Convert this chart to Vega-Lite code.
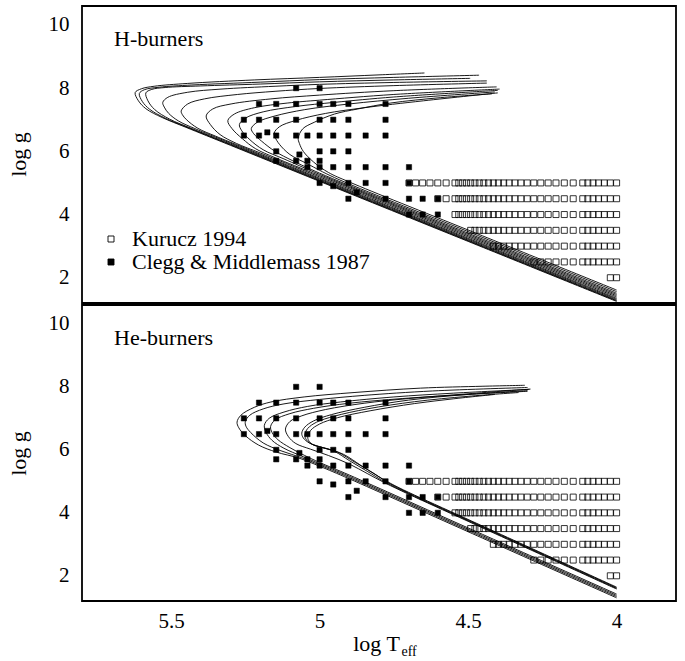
{
"$schema": "https://vega.github.io/schema/vega-lite/v6.json",
"padding": {"left": 6, "top": 5, "right": 10, "bottom": 0},
"config": {
  "font": "Liberation Serif",
  "view": {"stroke": "black", "strokeWidth": 1.8, "fill": "transparent"},
  "axis": {"domain": false, "grid": false, "ticks": false, "tickSize": 0, "labelFont": "Liberation Serif", "labelFontSize": 21, "labelColor": "black", "titleFont": "Liberation Serif", "titleFontSize": 22, "titleColor": "black", "titleFontWeight": "normal", "labelFlush": false, "labelOverlap": false, "format": "~r"}
},
"datasets": {
"tracks": [
{"p":"H","k":"A","i":0,"x":4.0,"y":1.25},{"p":"H","k":"A","i":1,"x":4.5,"y":3.15},{"p":"H","k":"A","i":2,"x":5.0,"y":5.05},{"p":"H","k":"A","i":3,"x":5.3,"y":6.19},{"p":"H","k":"A","i":4,"x":5.45,"y":6.76},{"p":"H","k":"A","i":5,"x":5.53,"y":7.07},{"p":"H","k":"A","i":6,"x":5.585,"y":7.35},{"p":"H","k":"A","i":7,"x":5.61,"y":7.6},{"p":"H","k":"A","i":8,"x":5.621,"y":7.86},{"p":"H","k":"A","i":9,"x":5.6,"y":7.98},{"p":"H","k":"A","i":10,"x":5.557,"y":8.06},{"p":"H","k":"A","i":11,"x":5.444,"y":8.15},{"p":"H","k":"A","i":12,"x":5.22,"y":8.26},{"p":"H","k":"A","i":13,"x":5.0,"y":8.34},{"p":"H","k":"A","i":14,"x":4.8,"y":8.42},{"p":"H","k":"A","i":15,"x":4.647,"y":8.48},
{"p":"H","k":"B","i":0,"x":4.0,"y":1.27},{"p":"H","k":"B","i":1,"x":4.5,"y":3.17},{"p":"H","k":"B","i":2,"x":5.0,"y":5.07},{"p":"H","k":"B","i":3,"x":5.3,"y":6.21},{"p":"H","k":"B","i":4,"x":5.44,"y":6.74},{"p":"H","k":"B","i":5,"x":5.52,"y":7.05},{"p":"H","k":"B","i":6,"x":5.572,"y":7.33},{"p":"H","k":"B","i":7,"x":5.597,"y":7.58},{"p":"H","k":"B","i":8,"x":5.607,"y":7.83},{"p":"H","k":"B","i":9,"x":5.59,"y":7.95},{"p":"H","k":"B","i":10,"x":5.54,"y":8.03},{"p":"H","k":"B","i":11,"x":5.43,"y":8.1},{"p":"H","k":"B","i":12,"x":5.2,"y":8.19},{"p":"H","k":"B","i":13,"x":5.0,"y":8.27},{"p":"H","k":"B","i":14,"x":4.75,"y":8.34},{"p":"H","k":"B","i":15,"x":4.463,"y":8.41},
{"p":"H","k":"C","i":0,"x":4.0,"y":1.29},{"p":"H","k":"C","i":1,"x":4.5,"y":3.19},{"p":"H","k":"C","i":2,"x":5.0,"y":5.09},{"p":"H","k":"C","i":3,"x":5.3,"y":6.23},{"p":"H","k":"C","i":4,"x":5.43,"y":6.72},{"p":"H","k":"C","i":5,"x":5.505,"y":7.02},{"p":"H","k":"C","i":6,"x":5.555,"y":7.32},{"p":"H","k":"C","i":7,"x":5.578,"y":7.6},{"p":"H","k":"C","i":8,"x":5.585,"y":7.85},{"p":"H","k":"C","i":9,"x":5.565,"y":7.96},{"p":"H","k":"C","i":10,"x":5.52,"y":8.02},{"p":"H","k":"C","i":11,"x":5.4,"y":8.07},{"p":"H","k":"C","i":12,"x":5.2,"y":8.13},{"p":"H","k":"C","i":13,"x":5.0,"y":8.2},{"p":"H","k":"C","i":14,"x":4.75,"y":8.26},{"p":"H","k":"C","i":15,"x":4.493,"y":8.31},
{"p":"H","k":"D","i":0,"x":4.0,"y":1.32},{"p":"H","k":"D","i":1,"x":4.5,"y":3.22},{"p":"H","k":"D","i":2,"x":5.0,"y":5.12},{"p":"H","k":"D","i":3,"x":5.3,"y":6.26},{"p":"H","k":"D","i":4,"x":5.42,"y":6.72},{"p":"H","k":"D","i":5,"x":5.475,"y":6.96},{"p":"H","k":"D","i":6,"x":5.508,"y":7.2},{"p":"H","k":"D","i":7,"x":5.523,"y":7.4},{"p":"H","k":"D","i":8,"x":5.528,"y":7.55},{"p":"H","k":"D","i":9,"x":5.511,"y":7.71},{"p":"H","k":"D","i":10,"x":5.444,"y":7.87},{"p":"H","k":"D","i":11,"x":5.332,"y":7.97},{"p":"H","k":"D","i":12,"x":5.15,"y":8.06},{"p":"H","k":"D","i":13,"x":5.0,"y":8.12},{"p":"H","k":"D","i":14,"x":4.75,"y":8.18},{"p":"H","k":"D","i":15,"x":4.437,"y":8.23},
{"p":"H","k":"E","i":0,"x":4.0,"y":1.35},{"p":"H","k":"E","i":1,"x":4.5,"y":3.25},{"p":"H","k":"E","i":2,"x":5.0,"y":5.15},{"p":"H","k":"E","i":3,"x":5.25,"y":6.1},{"p":"H","k":"E","i":4,"x":5.35,"y":6.48},{"p":"H","k":"E","i":5,"x":5.41,"y":6.73},{"p":"H","k":"E","i":6,"x":5.448,"y":7.0},{"p":"H","k":"E","i":7,"x":5.462,"y":7.16},{"p":"H","k":"E","i":8,"x":5.466,"y":7.28},{"p":"H","k":"E","i":9,"x":5.444,"y":7.5},{"p":"H","k":"E","i":10,"x":5.388,"y":7.66},{"p":"H","k":"E","i":11,"x":5.276,"y":7.8},{"p":"H","k":"E","i":12,"x":5.15,"y":7.9},{"p":"H","k":"E","i":13,"x":5.0,"y":7.99},{"p":"H","k":"E","i":14,"x":4.75,"y":8.08},{"p":"H","k":"E","i":15,"x":4.437,"y":8.16},
{"p":"H","k":"F","i":0,"x":4.0,"y":1.39},{"p":"H","k":"F","i":1,"x":4.5,"y":3.29},{"p":"H","k":"F","i":2,"x":5.0,"y":5.19},{"p":"H","k":"F","i":3,"x":5.2,"y":5.95},{"p":"H","k":"F","i":4,"x":5.28,"y":6.25},{"p":"H","k":"F","i":5,"x":5.335,"y":6.53},{"p":"H","k":"F","i":6,"x":5.368,"y":6.85},{"p":"H","k":"F","i":7,"x":5.382,"y":7.12},{"p":"H","k":"F","i":8,"x":5.36,"y":7.34},{"p":"H","k":"F","i":9,"x":5.298,"y":7.5},{"p":"H","k":"F","i":10,"x":5.164,"y":7.66},{"p":"H","k":"F","i":11,"x":5.0,"y":7.78},{"p":"H","k":"F","i":12,"x":4.75,"y":7.92},{"p":"H","k":"F","i":13,"x":4.404,"y":8.04},
{"p":"H","k":"G","i":0,"x":4.0,"y":1.43},{"p":"H","k":"G","i":1,"x":4.5,"y":3.33},{"p":"H","k":"G","i":2,"x":5.0,"y":5.23},{"p":"H","k":"G","i":3,"x":5.15,"y":5.8},{"p":"H","k":"G","i":4,"x":5.215,"y":6.08},{"p":"H","k":"G","i":5,"x":5.26,"y":6.4},{"p":"H","k":"G","i":6,"x":5.295,"y":6.72},{"p":"H","k":"G","i":7,"x":5.309,"y":6.97},{"p":"H","k":"G","i":8,"x":5.287,"y":7.18},{"p":"H","k":"G","i":9,"x":5.22,"y":7.38},{"p":"H","k":"G","i":10,"x":5.107,"y":7.53},{"p":"H","k":"G","i":11,"x":5.0,"y":7.62},{"p":"H","k":"G","i":12,"x":4.75,"y":7.8},{"p":"H","k":"G","i":13,"x":4.394,"y":7.97},
{"p":"H","k":"H","i":0,"x":4.0,"y":1.47},{"p":"H","k":"H","i":1,"x":4.5,"y":3.37},{"p":"H","k":"H","i":2,"x":5.0,"y":5.27},{"p":"H","k":"H","i":3,"x":5.12,"y":5.76},{"p":"H","k":"H","i":4,"x":5.19,"y":6.05},{"p":"H","k":"H","i":5,"x":5.235,"y":6.37},{"p":"H","k":"H","i":6,"x":5.262,"y":6.65},{"p":"H","k":"H","i":7,"x":5.27,"y":6.85},{"p":"H","k":"H","i":8,"x":5.25,"y":7.05},{"p":"H","k":"H","i":9,"x":5.19,"y":7.25},{"p":"H","k":"H","i":10,"x":5.08,"y":7.42},{"p":"H","k":"H","i":11,"x":4.95,"y":7.55},{"p":"H","k":"H","i":12,"x":4.75,"y":7.72},{"p":"H","k":"H","i":13,"x":4.4,"y":7.93},
{"p":"H","k":"I","i":0,"x":4.0,"y":1.51},{"p":"H","k":"I","i":1,"x":4.5,"y":3.41},{"p":"H","k":"I","i":2,"x":5.0,"y":5.31},{"p":"H","k":"I","i":3,"x":5.09,"y":5.7},{"p":"H","k":"I","i":4,"x":5.15,"y":6.0},{"p":"H","k":"I","i":5,"x":5.195,"y":6.32},{"p":"H","k":"I","i":6,"x":5.222,"y":6.56},{"p":"H","k":"I","i":7,"x":5.23,"y":6.72},{"p":"H","k":"I","i":8,"x":5.21,"y":6.92},{"p":"H","k":"I","i":9,"x":5.15,"y":7.12},{"p":"H","k":"I","i":10,"x":5.05,"y":7.32},{"p":"H","k":"I","i":11,"x":4.9,"y":7.5},{"p":"H","k":"I","i":12,"x":4.7,"y":7.68},{"p":"H","k":"I","i":13,"x":4.41,"y":7.88},
{"p":"H","k":"J","i":0,"x":4.0,"y":1.56},{"p":"H","k":"J","i":1,"x":4.5,"y":3.46},{"p":"H","k":"J","i":2,"x":4.95,"y":5.17},{"p":"H","k":"J","i":3,"x":5.04,"y":5.6},{"p":"H","k":"J","i":4,"x":5.1,"y":5.9},{"p":"H","k":"J","i":5,"x":5.135,"y":6.22},{"p":"H","k":"J","i":6,"x":5.15,"y":6.45},{"p":"H","k":"J","i":7,"x":5.153,"y":6.58},{"p":"H","k":"J","i":8,"x":5.135,"y":6.78},{"p":"H","k":"J","i":9,"x":5.08,"y":6.98},{"p":"H","k":"J","i":10,"x":4.98,"y":7.2},{"p":"H","k":"J","i":11,"x":4.85,"y":7.38},{"p":"H","k":"J","i":12,"x":4.65,"y":7.6},{"p":"H","k":"J","i":13,"x":4.4,"y":7.85},
{"p":"H","k":"K","i":0,"x":4.0,"y":1.61},{"p":"H","k":"K","i":1,"x":4.5,"y":3.51},{"p":"H","k":"K","i":2,"x":4.9,"y":5.03},{"p":"H","k":"K","i":3,"x":4.97,"y":5.33},{"p":"H","k":"K","i":4,"x":5.02,"y":5.66},{"p":"H","k":"K","i":5,"x":5.055,"y":6.0},{"p":"H","k":"K","i":6,"x":5.068,"y":6.25},{"p":"H","k":"K","i":7,"x":5.072,"y":6.42},{"p":"H","k":"K","i":8,"x":5.057,"y":6.71},{"p":"H","k":"K","i":9,"x":5.018,"y":6.92},{"p":"H","k":"K","i":10,"x":4.95,"y":7.18},{"p":"H","k":"K","i":11,"x":4.872,"y":7.34},{"p":"H","k":"K","i":12,"x":4.76,"y":7.53},{"p":"H","k":"K","i":13,"x":4.592,"y":7.7},{"p":"H","k":"K","i":14,"x":4.42,"y":7.82},
{"p":"He","k":"P1","i":0,"x":4.0,"y":1.3},{"p":"He","k":"P1","i":1,"x":4.5,"y":3.4},{"p":"He","k":"P1","i":2,"x":4.9,"y":5.08},{"p":"He","k":"P1","i":3,"x":5.0,"y":5.48},{"p":"He","k":"P1","i":4,"x":5.07,"y":5.74},{"p":"He","k":"P1","i":5,"x":5.146,"y":5.93},{"p":"He","k":"P1","i":6,"x":5.205,"y":6.15},{"p":"He","k":"P1","i":7,"x":5.25,"y":6.45},{"p":"He","k":"P1","i":8,"x":5.272,"y":6.7},{"p":"He","k":"P1","i":9,"x":5.278,"y":6.88},{"p":"He","k":"P1","i":10,"x":5.265,"y":7.1},{"p":"He","k":"P1","i":11,"x":5.22,"y":7.35},{"p":"He","k":"P1","i":12,"x":5.164,"y":7.52},{"p":"He","k":"P1","i":13,"x":5.052,"y":7.68},{"p":"He","k":"P1","i":14,"x":4.884,"y":7.82},{"p":"He","k":"P1","i":15,"x":4.66,"y":7.96},{"p":"He","k":"P1","i":16,"x":4.45,"y":8.02},{"p":"He","k":"P1","i":17,"x":4.309,"y":8.05},
{"p":"He","k":"P2","i":0,"x":4.0,"y":1.34},{"p":"He","k":"P2","i":1,"x":4.5,"y":3.44},{"p":"He","k":"P2","i":2,"x":4.9,"y":5.12},{"p":"He","k":"P2","i":3,"x":5.0,"y":5.52},{"p":"He","k":"P2","i":4,"x":5.06,"y":5.75},{"p":"He","k":"P2","i":5,"x":5.13,"y":5.97},{"p":"He","k":"P2","i":6,"x":5.19,"y":6.22},{"p":"He","k":"P2","i":7,"x":5.232,"y":6.55},{"p":"He","k":"P2","i":8,"x":5.248,"y":6.75},{"p":"He","k":"P2","i":9,"x":5.25,"y":6.9},{"p":"He","k":"P2","i":10,"x":5.235,"y":7.1},{"p":"He","k":"P2","i":11,"x":5.19,"y":7.3},{"p":"He","k":"P2","i":12,"x":5.12,"y":7.46},{"p":"He","k":"P2","i":13,"x":5.0,"y":7.6},{"p":"He","k":"P2","i":14,"x":4.85,"y":7.73},{"p":"He","k":"P2","i":15,"x":4.62,"y":7.87},{"p":"He","k":"P2","i":16,"x":4.3,"y":7.98},
{"p":"He","k":"P3","i":0,"x":4.0,"y":1.38},{"p":"He","k":"P3","i":1,"x":4.5,"y":3.48},{"p":"He","k":"P3","i":2,"x":4.9,"y":5.16},{"p":"He","k":"P3","i":3,"x":5.0,"y":5.56},{"p":"He","k":"P3","i":4,"x":5.06,"y":5.8},{"p":"He","k":"P3","i":5,"x":5.12,"y":6.05},{"p":"He","k":"P3","i":6,"x":5.16,"y":6.3},{"p":"He","k":"P3","i":7,"x":5.18,"y":6.55},{"p":"He","k":"P3","i":8,"x":5.186,"y":6.78},{"p":"He","k":"P3","i":9,"x":5.17,"y":7.0},{"p":"He","k":"P3","i":10,"x":5.12,"y":7.2},{"p":"He","k":"P3","i":11,"x":5.04,"y":7.38},{"p":"He","k":"P3","i":12,"x":4.93,"y":7.52},{"p":"He","k":"P3","i":13,"x":4.75,"y":7.68},{"p":"He","k":"P3","i":14,"x":4.55,"y":7.8},{"p":"He","k":"P3","i":15,"x":4.294,"y":7.92},
{"p":"He","k":"P4","i":0,"x":4.0,"y":1.42},{"p":"He","k":"P4","i":1,"x":4.5,"y":3.52},{"p":"He","k":"P4","i":2,"x":4.9,"y":5.2},{"p":"He","k":"P4","i":3,"x":5.0,"y":5.6},{"p":"He","k":"P4","i":4,"x":5.05,"y":5.82},{"p":"He","k":"P4","i":5,"x":5.1,"y":6.07},{"p":"He","k":"P4","i":6,"x":5.14,"y":6.32},{"p":"He","k":"P4","i":7,"x":5.16,"y":6.55},{"p":"He","k":"P4","i":8,"x":5.165,"y":6.74},{"p":"He","k":"P4","i":9,"x":5.15,"y":6.95},{"p":"He","k":"P4","i":10,"x":5.1,"y":7.15},{"p":"He","k":"P4","i":11,"x":5.02,"y":7.32},{"p":"He","k":"P4","i":12,"x":4.9,"y":7.48},{"p":"He","k":"P4","i":13,"x":4.72,"y":7.63},{"p":"He","k":"P4","i":14,"x":4.5,"y":7.76},{"p":"He","k":"P4","i":15,"x":4.3,"y":7.86},
{"p":"He","k":"P5","i":0,"x":4.0,"y":1.58},{"p":"He","k":"P5","i":1,"x":4.5,"y":3.73},{"p":"He","k":"P5","i":2,"x":4.7,"y":4.59},{"p":"He","k":"P5","i":3,"x":4.78,"y":4.95},{"p":"He","k":"P5","i":4,"x":4.84,"y":5.25},{"p":"He","k":"P5","i":5,"x":4.9,"y":5.55},{"p":"He","k":"P5","i":6,"x":4.97,"y":5.82},{"p":"He","k":"P5","i":7,"x":5.03,"y":6.02},{"p":"He","k":"P5","i":8,"x":5.08,"y":6.2},{"p":"He","k":"P5","i":9,"x":5.105,"y":6.42},{"p":"He","k":"P5","i":10,"x":5.115,"y":6.66},{"p":"He","k":"P5","i":11,"x":5.1,"y":6.9},{"p":"He","k":"P5","i":12,"x":5.06,"y":7.08},{"p":"He","k":"P5","i":13,"x":4.98,"y":7.28},{"p":"He","k":"P5","i":14,"x":4.85,"y":7.48},{"p":"He","k":"P5","i":15,"x":4.7,"y":7.63},{"p":"He","k":"P5","i":16,"x":4.5,"y":7.78},{"p":"He","k":"P5","i":17,"x":4.29,"y":7.93},
{"p":"He","k":"P6","i":0,"x":4.0,"y":1.6},{"p":"He","k":"P6","i":1,"x":4.5,"y":3.75},{"p":"He","k":"P6","i":2,"x":4.7,"y":4.61},{"p":"He","k":"P6","i":3,"x":4.78,"y":4.98},{"p":"He","k":"P6","i":4,"x":4.84,"y":5.32},{"p":"He","k":"P6","i":5,"x":4.9,"y":5.66},{"p":"He","k":"P6","i":6,"x":4.95,"y":5.95},{"p":"He","k":"P6","i":7,"x":5.0,"y":6.1},{"p":"He","k":"P6","i":8,"x":5.035,"y":6.22},{"p":"He","k":"P6","i":9,"x":5.055,"y":6.38},{"p":"He","k":"P6","i":10,"x":5.06,"y":6.53},{"p":"He","k":"P6","i":11,"x":5.05,"y":6.72},{"p":"He","k":"P6","i":12,"x":5.02,"y":6.92},{"p":"He","k":"P6","i":13,"x":4.96,"y":7.12},{"p":"He","k":"P6","i":14,"x":4.85,"y":7.35},{"p":"He","k":"P6","i":15,"x":4.7,"y":7.58},{"p":"He","k":"P6","i":16,"x":4.5,"y":7.76},{"p":"He","k":"P6","i":17,"x":4.3,"y":7.88},
{"p":"He","k":"P7","i":0,"x":4.0,"y":1.62},{"p":"He","k":"P7","i":1,"x":4.5,"y":3.77},{"p":"He","k":"P7","i":2,"x":4.7,"y":4.63},{"p":"He","k":"P7","i":3,"x":4.77,"y":4.96},{"p":"He","k":"P7","i":4,"x":4.82,"y":5.27},{"p":"He","k":"P7","i":5,"x":4.88,"y":5.6},{"p":"He","k":"P7","i":6,"x":4.94,"y":5.93},{"p":"He","k":"P7","i":7,"x":4.99,"y":6.07},{"p":"He","k":"P7","i":8,"x":5.03,"y":6.2},{"p":"He","k":"P7","i":9,"x":5.045,"y":6.33},{"p":"He","k":"P7","i":10,"x":5.05,"y":6.47},{"p":"He","k":"P7","i":11,"x":5.04,"y":6.68},{"p":"He","k":"P7","i":12,"x":5.01,"y":6.88},{"p":"He","k":"P7","i":13,"x":4.95,"y":7.07},{"p":"He","k":"P7","i":14,"x":4.84,"y":7.3},{"p":"He","k":"P7","i":15,"x":4.68,"y":7.53},{"p":"He","k":"P7","i":16,"x":4.5,"y":7.7},{"p":"He","k":"P7","i":17,"x":4.33,"y":7.82},
{"p":"He","k":"P8","i":0,"x":4.0,"y":1.64},{"p":"He","k":"P8","i":1,"x":4.5,"y":3.79},{"p":"He","k":"P8","i":2,"x":4.7,"y":4.65},{"p":"He","k":"P8","i":3,"x":4.76,"y":4.93},{"p":"He","k":"P8","i":4,"x":4.81,"y":5.2},{"p":"He","k":"P8","i":5,"x":4.86,"y":5.5},{"p":"He","k":"P8","i":6,"x":4.92,"y":5.86},{"p":"He","k":"P8","i":7,"x":4.975,"y":6.04},{"p":"He","k":"P8","i":8,"x":5.02,"y":6.15},{"p":"He","k":"P8","i":9,"x":5.035,"y":6.27},{"p":"He","k":"P8","i":10,"x":5.04,"y":6.4},{"p":"He","k":"P8","i":11,"x":5.03,"y":6.62},{"p":"He","k":"P8","i":12,"x":5.0,"y":6.82},{"p":"He","k":"P8","i":13,"x":4.94,"y":7.02},{"p":"He","k":"P8","i":14,"x":4.83,"y":7.24},{"p":"He","k":"P8","i":15,"x":4.68,"y":7.47},{"p":"He","k":"P8","i":16,"x":4.55,"y":7.62},{"p":"He","k":"P8","i":17,"x":4.41,"y":7.76}
],
"kurucz": [
{"x":4.0,"y":5},{"x":4.0212,"y":5},{"x":4.0414,"y":5},{"x":4.0607,"y":5},{"x":4.0792,"y":5},{"x":4.0969,"y":5},{"x":4.1139,"y":5},{"x":4.1461,"y":5},{"x":4.1761,"y":5},{"x":4.2041,"y":5},{"x":4.2304,"y":5},{"x":4.2553,"y":5},{"x":4.2788,"y":5},{"x":4.301,"y":5},{"x":4.3222,"y":5},{"x":4.3424,"y":5},{"x":4.3617,"y":5},{"x":4.3802,"y":5},{"x":4.3979,"y":5},{"x":4.415,"y":5},{"x":4.4314,"y":5},{"x":4.4472,"y":5},{"x":4.4624,"y":5},{"x":4.4771,"y":5},{"x":4.4914,"y":5},{"x":4.5051,"y":5},{"x":4.5185,"y":5},{"x":4.5315,"y":5},{"x":4.5441,"y":5},{"x":4.574,"y":5},{"x":4.6021,"y":5},{"x":4.6284,"y":5},{"x":4.6532,"y":5},{"x":4.6767,"y":5},{"x":4.699,"y":5},
{"x":4.0,"y":4.5},{"x":4.0212,"y":4.5},{"x":4.0414,"y":4.5},{"x":4.0607,"y":4.5},{"x":4.0792,"y":4.5},{"x":4.0969,"y":4.5},{"x":4.1139,"y":4.5},{"x":4.1461,"y":4.5},{"x":4.1761,"y":4.5},{"x":4.2041,"y":4.5},{"x":4.2304,"y":4.5},{"x":4.2553,"y":4.5},{"x":4.2788,"y":4.5},{"x":4.301,"y":4.5},{"x":4.3222,"y":4.5},{"x":4.3424,"y":4.5},{"x":4.3617,"y":4.5},{"x":4.3802,"y":4.5},{"x":4.3979,"y":4.5},{"x":4.415,"y":4.5},{"x":4.4314,"y":4.5},{"x":4.4472,"y":4.5},{"x":4.4624,"y":4.5},{"x":4.4771,"y":4.5},{"x":4.4914,"y":4.5},{"x":4.5051,"y":4.5},{"x":4.5185,"y":4.5},{"x":4.5315,"y":4.5},{"x":4.5441,"y":4.5},{"x":4.574,"y":4.5},{"x":4.6021,"y":4.5},
{"x":4.0,"y":4},{"x":4.0212,"y":4},{"x":4.0414,"y":4},{"x":4.0607,"y":4},{"x":4.0792,"y":4},{"x":4.0969,"y":4},{"x":4.1139,"y":4},{"x":4.1461,"y":4},{"x":4.1761,"y":4},{"x":4.2041,"y":4},{"x":4.2304,"y":4},{"x":4.2553,"y":4},{"x":4.2788,"y":4},{"x":4.301,"y":4},{"x":4.3222,"y":4},{"x":4.3424,"y":4},{"x":4.3617,"y":4},{"x":4.3802,"y":4},{"x":4.3979,"y":4},{"x":4.415,"y":4},{"x":4.4314,"y":4},{"x":4.4472,"y":4},{"x":4.4624,"y":4},{"x":4.4771,"y":4},{"x":4.4914,"y":4},{"x":4.5051,"y":4},{"x":4.5185,"y":4},{"x":4.5315,"y":4},{"x":4.5441,"y":4},
{"x":4.0,"y":3.5},{"x":4.0212,"y":3.5},{"x":4.0414,"y":3.5},{"x":4.0607,"y":3.5},{"x":4.0792,"y":3.5},{"x":4.0969,"y":3.5},{"x":4.1139,"y":3.5},{"x":4.1461,"y":3.5},{"x":4.1761,"y":3.5},{"x":4.2041,"y":3.5},{"x":4.2304,"y":3.5},{"x":4.2553,"y":3.5},{"x":4.2788,"y":3.5},{"x":4.301,"y":3.5},{"x":4.3222,"y":3.5},{"x":4.3424,"y":3.5},{"x":4.3617,"y":3.5},{"x":4.3802,"y":3.5},{"x":4.3979,"y":3.5},{"x":4.415,"y":3.5},{"x":4.4314,"y":3.5},{"x":4.4472,"y":3.5},{"x":4.4624,"y":3.5},{"x":4.4771,"y":3.5},{"x":4.4914,"y":3.5},
{"x":4.0,"y":3},{"x":4.0212,"y":3},{"x":4.0414,"y":3},{"x":4.0607,"y":3},{"x":4.0792,"y":3},{"x":4.0969,"y":3},{"x":4.1139,"y":3},{"x":4.1461,"y":3},{"x":4.1761,"y":3},{"x":4.2041,"y":3},{"x":4.2304,"y":3},{"x":4.2553,"y":3},{"x":4.2788,"y":3},{"x":4.301,"y":3},{"x":4.3222,"y":3},{"x":4.3424,"y":3},{"x":4.3617,"y":3},{"x":4.3802,"y":3},{"x":4.3979,"y":3},{"x":4.415,"y":3},
{"x":4.0,"y":2.5},{"x":4.0212,"y":2.5},{"x":4.0414,"y":2.5},{"x":4.0607,"y":2.5},{"x":4.0792,"y":2.5},{"x":4.0969,"y":2.5},{"x":4.1139,"y":2.5},{"x":4.1461,"y":2.5},{"x":4.1761,"y":2.5},{"x":4.2041,"y":2.5},{"x":4.2304,"y":2.5},{"x":4.2553,"y":2.5},{"x":4.2788,"y":2.5},
{"x":4.0,"y":2},{"x":4.0212,"y":2}
],
"clegg": [
{"x":5.079,"y":8.0},{"x":5.0,"y":8.0},
{"x":5.204,"y":7.5},{"x":5.146,"y":7.5},{"x":5.079,"y":7.5},{"x":5.0,"y":7.5},{"x":4.954,"y":7.5},{"x":4.903,"y":7.5},{"x":4.778,"y":7.5},
{"x":5.255,"y":7.0},{"x":5.204,"y":7.0},{"x":5.146,"y":7.0},{"x":5.079,"y":7.0},{"x":5.0,"y":7.0},{"x":4.954,"y":7.0},{"x":4.903,"y":7.0},{"x":4.778,"y":7.0},
{"x":5.255,"y":6.5},{"x":5.204,"y":6.5},{"x":5.176,"y":6.6},{"x":5.146,"y":6.5},{"x":5.079,"y":6.5},{"x":5.041,"y":6.5},{"x":5.0,"y":6.5},{"x":4.954,"y":6.5},{"x":4.903,"y":6.5},{"x":4.845,"y":6.5},{"x":4.778,"y":6.5},
{"x":5.146,"y":6.0},{"x":5.068,"y":5.9},{"x":5.0,"y":6.0},{"x":4.954,"y":6.0},{"x":4.903,"y":6.0},
{"x":5.146,"y":5.7},{"x":5.079,"y":5.7},{"x":5.041,"y":5.7},{"x":5.0,"y":5.7},
{"x":5.041,"y":5.5},{"x":5.0,"y":5.5},{"x":4.954,"y":5.5},{"x":4.903,"y":5.5},{"x":4.845,"y":5.5},{"x":4.778,"y":5.5},{"x":4.699,"y":5.5},
{"x":5.0,"y":5.0},{"x":4.954,"y":4.9},{"x":4.903,"y":5.0},{"x":4.845,"y":5.0},{"x":4.778,"y":5.0},{"x":4.699,"y":5.0},
{"x":4.903,"y":4.5},{"x":4.875,"y":4.7},{"x":4.778,"y":4.5},{"x":4.699,"y":4.5},{"x":4.653,"y":4.5},{"x":4.602,"y":4.5},
{"x":4.699,"y":4.0},{"x":4.653,"y":4.0},{"x":4.602,"y":4.0}
],
"labH": [{"lx":5.692,"ly":9.55,"label":"H-burners"}],
"labHe": [{"lx":5.692,"ly":9.55,"label":"He-burners"}]
},
"spacing": 0,
"resolve": {"scale": {"fill": "independent"}, "legend": {"fill": "independent"}},
"vconcat": [
{
  "width": 594, "height": 297,
  "resolve": {"axis": {"x": "independent", "y": "independent"}},
  "layer": [
    {
      "data": {"name": "tracks"},
      "transform": [{"filter": "datum.p === 'H'"}],
      "mark": {"type": "line", "color": "black", "strokeWidth": 0.9, "interpolate": "catmull-rom", "clip": true},
      "encoding": {
        "x": {"field": "x", "type": "quantitative", "scale": {"domain": [3.8, 5.8], "reverse": true, "nice": false, "zero": false}, "axis": null},
        "y": {"field": "y", "type": "quantitative", "scale": {"domain": [1.2, 10.6], "nice": false, "zero": false},
              "axis": {"orient": "left", "values": [2, 4, 6, 8, 10], "labelPadding": 13, "title": "log g", "titleX": -57, "titleY": 148, "titleAngle": -90, "titleAlign": "center", "titleBaseline": "alphabetic"}},
        "detail": {"field": "k"},
        "order": {"field": "i", "type": "quantitative"}
      }
    },
    {
      "data": {"name": "kurucz"},
      "mark": {"type": "point", "shape": "square", "filled": true, "stroke": "black", "strokeWidth": 0.8, "size": 36, "opacity": 1},
      "encoding": {
        "x": {"field": "x", "type": "quantitative", "scale": {"domain": [3.8, 5.8], "reverse": true, "nice": false, "zero": false}, "axis": null},
        "y": {"field": "y", "type": "quantitative", "scale": {"domain": [1.2, 10.6], "nice": false, "zero": false}, "axis": null},
        "fill": {"datum": "Kurucz 1994", "type": "nominal",
                 "scale": {"domain": ["Kurucz 1994", "Clegg & Middlemass 1987"], "range": ["transparent", "black"]},
                 "legend": {"orient": "none", "legendX": 18, "legendY": 222, "title": null, "symbolType": "square", "symbolSize": 36, "symbolStrokeColor": "black", "symbolStrokeWidth": 0.9, "symbolOpacity": 1, "labelFont": "Liberation Serif", "labelFontSize": 22, "labelColor": "black", "labelOffset": 10, "labelLimit": 0, "rowPadding": 1, "padding": 0}}
      }
    },
    {
      "data": {"name": "clegg"},
      "mark": {"type": "point", "shape": "square", "filled": true, "stroke": "black", "strokeWidth": 0.5, "size": 28, "opacity": 1},
      "encoding": {
        "x": {"field": "x", "type": "quantitative", "scale": {"domain": [3.8, 5.8], "reverse": true, "nice": false, "zero": false}, "axis": null},
        "y": {"field": "y", "type": "quantitative", "scale": {"domain": [1.2, 10.6], "nice": false, "zero": false}, "axis": null},
        "fill": {"datum": "Clegg & Middlemass 1987", "type": "nominal"}
      }
    },
    {
      "data": {"name": "labH"},
      "mark": {"type": "text", "align": "left", "baseline": "middle", "fontSize": 22, "font": "Liberation Serif", "color": "black"},
      "encoding": {
        "x": {"field": "lx", "type": "quantitative", "scale": {"domain": [3.8, 5.8], "reverse": true, "nice": false, "zero": false}, "axis": null},
        "y": {"field": "ly", "type": "quantitative", "scale": {"domain": [1.2, 10.6], "nice": false, "zero": false}, "axis": null},
        "text": {"field": "label"}
      }
    }
  ]
},
{
  "width": 594, "height": 296,
  "resolve": {"axis": {"x": "independent", "y": "independent"}},
  "layer": [
    {
      "data": {"name": "tracks"},
      "transform": [{"filter": "datum.p === 'He'"}],
      "mark": {"type": "line", "color": "black", "strokeWidth": 0.9, "interpolate": "catmull-rom", "clip": true},
      "encoding": {
        "x": {"field": "x", "type": "quantitative", "scale": {"domain": [3.8, 5.8], "reverse": true, "nice": false, "zero": false},
              "axis": {"orient": "bottom", "values": [5.5, 5, 4.5, 4], "labelPadding": 9, "title": "log T", "titleX": 294, "titleY": 49, "titleAlign": "center", "titleBaseline": "alphabetic"}},
        "y": {"field": "y", "type": "quantitative", "scale": {"domain": [1.2, 10.6], "nice": false, "zero": false},
              "axis": {"orient": "left", "values": [2, 4, 6, 8, 10], "labelPadding": 13, "title": "log g", "titleX": -57, "titleY": 148, "titleAngle": -90, "titleAlign": "center", "titleBaseline": "alphabetic"}},
        "detail": {"field": "k"},
        "order": {"field": "i", "type": "quantitative"}
      }
    },
    {
      "data": {"name": "kurucz"},
      "mark": {"type": "point", "shape": "square", "filled": false, "stroke": "black", "strokeWidth": 0.8, "size": 36, "opacity": 1},
      "encoding": {
        "x": {"field": "x", "type": "quantitative", "scale": {"domain": [3.8, 5.8], "reverse": true, "nice": false, "zero": false},
              "axis": {"orient": "bottom", "values": [4], "labels": false, "title": "eff", "titleFontSize": 14, "titleX": 319, "titleY": 54, "titleAlign": "left", "titleBaseline": "alphabetic"}},
        "y": {"field": "y", "type": "quantitative", "scale": {"domain": [1.2, 10.6], "nice": false, "zero": false}, "axis": null}
      }
    },
    {
      "data": {"name": "clegg"},
      "mark": {"type": "point", "shape": "square", "filled": true, "color": "black", "stroke": "black", "strokeWidth": 0.5, "size": 28, "opacity": 1},
      "encoding": {
        "x": {"field": "x", "type": "quantitative", "scale": {"domain": [3.8, 5.8], "reverse": true, "nice": false, "zero": false}, "axis": null},
        "y": {"field": "y", "type": "quantitative", "scale": {"domain": [1.2, 10.6], "nice": false, "zero": false}, "axis": null}
      }
    },
    {
      "data": {"name": "labHe"},
      "mark": {"type": "text", "align": "left", "baseline": "middle", "fontSize": 22, "font": "Liberation Serif", "color": "black"},
      "encoding": {
        "x": {"field": "lx", "type": "quantitative", "scale": {"domain": [3.8, 5.8], "reverse": true, "nice": false, "zero": false}, "axis": null},
        "y": {"field": "ly", "type": "quantitative", "scale": {"domain": [1.2, 10.6], "nice": false, "zero": false}, "axis": null},
        "text": {"field": "label"}
      }
    }
  ]
}
]
}
